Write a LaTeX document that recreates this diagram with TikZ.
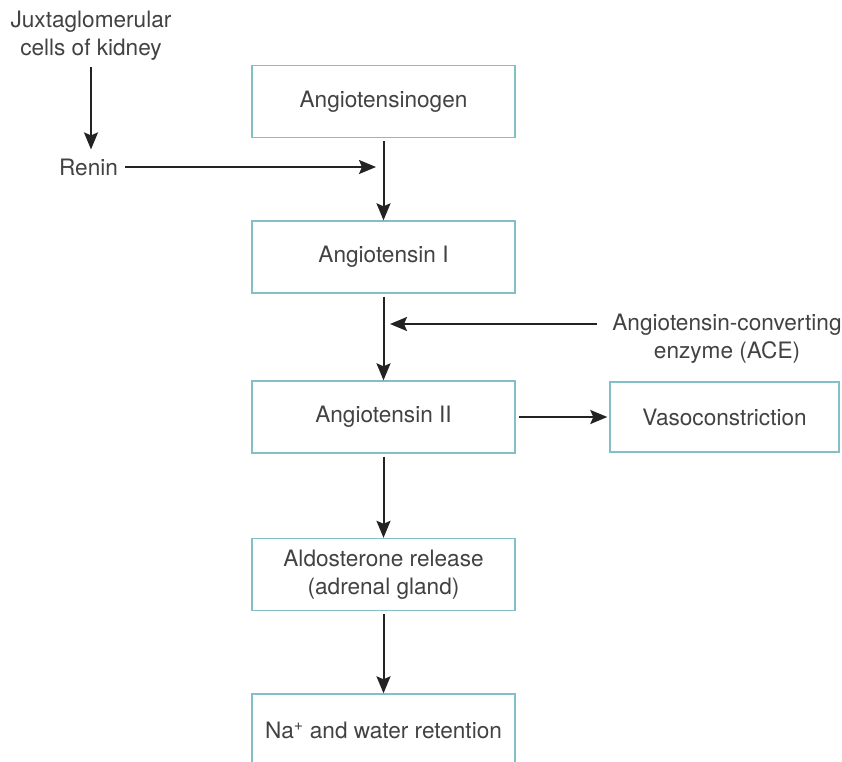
\documentclass[tikz,border=0pt]{standalone}
\usepackage{fontspec}
\setmainfont{TeX Gyre Heros}
\usetikzlibrary{arrows.meta}

\definecolor{boxline}{RGB}{128,192,198}
\definecolor{txt}{RGB}{66,66,66}
\definecolor{arr}{RGB}{35,35,35}

\tikzset{
  stage/.style={draw=boxline, line width=1.4pt, minimum width=263pt,
    minimum height=72pt, inner sep=0pt, align=center, text=txt},
  note/.style={align=center, text=txt, inner sep=2pt},
  flow/.style={->, draw=arr, line width=2pt}
}

\begin{document}
\begin{tikzpicture}[x=1pt, y=-1pt, >={Stealth[length=17pt,width=14pt,inset=3pt]},
    font=\fontsize{22.6}{28}\selectfont]
  \clip (0,0) rectangle (842,761);
  \fill [white] (0,0) rectangle (842,761);

  % main chain
  \node [stage] (ogen) at (383.5,101.5) {Angiotensinogen};
  \node [stage] (ang1) at (383.5,257) {Angiotensin I};
  \node [stage] (ang2) at (383.5,417) {Angiotensin II};
  \node [stage] (aldo) at (383.5,574.5) {Aldosterone release\\(adrenal gland)};
  \node [stage] (na) at (383.5,730) {Na\textsuperscript{+} and water retention};
  \node [stage, minimum width=229pt, minimum height=70pt] (vaso) at (724.5,417) {Vasoconstriction};

  % side labels
  \node [note] (juxta) at (91,36) {Juxtaglomerular\\cells of kidney};
  \node [note] (renin) at (88.5,167) {Renin};
  \node [note] (ace) at (727,339) {Angiotensin-converting\\enzyme (ACE)};

  \coordinate (rtip) at (376,167);
  \coordinate (acetip) at (390,324);
  \coordinate (acetail) at (597,324);

  \draw [flow, shorten <=3pt] (ogen) -- (ang1);
  \draw [flow, shorten <=3pt] (ang1) -- (ang2);
  \draw [flow, shorten <=3pt] (ang2) -- (aldo);
  \draw [flow, shorten <=3pt] (aldo) -- (na);
  \draw [flow, shorten <=3pt, shorten >=2pt] (ang2) -- (vaso);
  \draw [flow, shorten <=4pt, shorten >=7pt] (juxta.south) -- (juxta.south |- renin.north);
  \draw [flow, shorten <=5pt] (renin) -- (rtip);
  \draw [flow] (acetail) -- (acetip);
\end{tikzpicture}
\end{document}
